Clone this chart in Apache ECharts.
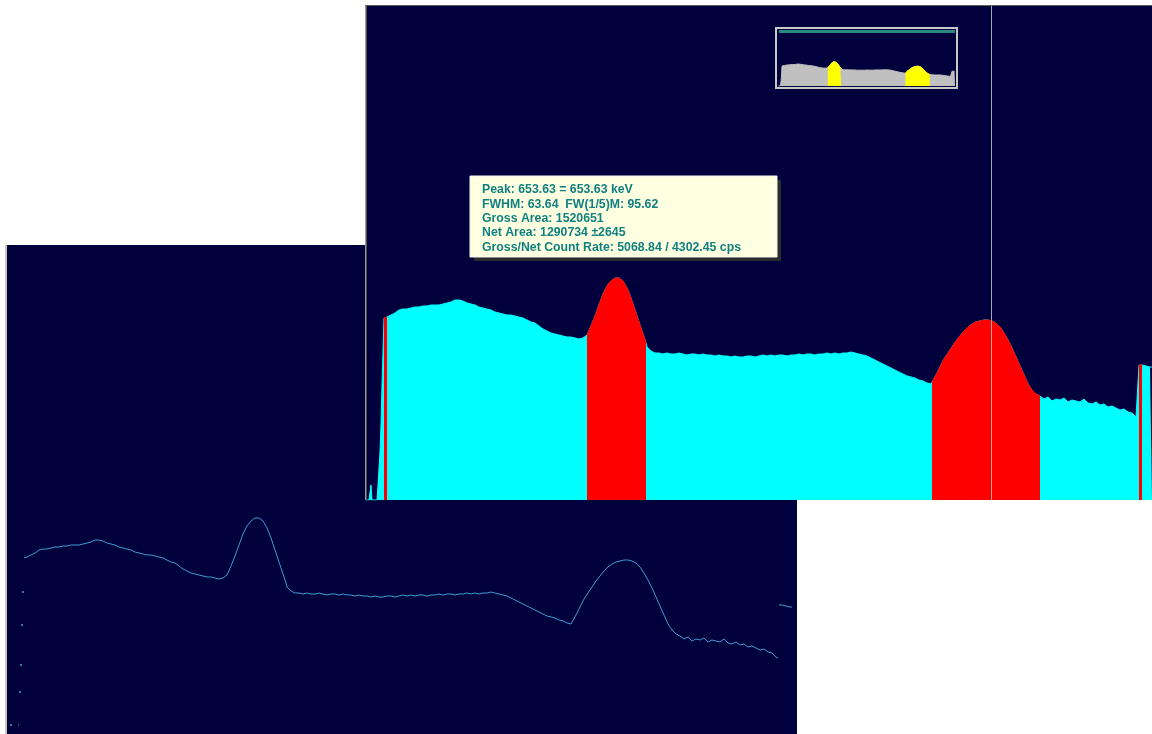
<!DOCTYPE html>
<html>
<head>
<meta charset="utf-8">
<title>Spectrum</title>
<script src="https://cdn.jsdelivr.net/npm/echarts@6/dist/echarts.min.js"></script>
<style>
  html, body { margin: 0; padding: 0; background: #ffffff; }
  #chart { width: 1152px; height: 734px; }
</style>
</head>
<body>
<div id="chart"></div>
<script>
// Gamma spectrum: channel number and counts per channel (sampled)
const channel = [
  0, 3, 4, 5, 6, 11, 12, 13, 14, 15, 16, 17, 18, 20, 21, 25, 29, 33, 37, 41,
  45, 49, 53, 57, 61, 65, 69, 73, 77, 81, 85, 89, 93, 97, 101, 105, 109, 113, 117, 121,
  125, 129, 133, 137, 141, 145, 149, 153, 157, 161, 165, 169, 173, 177, 181, 185, 189, 193, 197, 201,
  205, 209, 213, 217, 221, 225, 229, 233, 237, 241, 245, 249, 253, 257, 261, 265, 269, 273, 277, 280,
  281, 285, 289, 293, 297, 301, 305, 309, 313, 317, 321, 325, 329, 333, 337, 341, 345, 349, 353, 357,
  361, 365, 369, 373, 377, 381, 385, 389, 393, 397, 401, 405, 409, 413, 417, 421, 425, 429, 433, 437,
  441, 445, 449, 453, 457, 461, 465, 469, 473, 477, 481, 485, 489, 493, 497, 501, 505, 509, 513, 517,
  521, 525, 529, 533, 537, 541, 545, 549, 553, 557, 561, 565, 566, 570, 574, 578, 582, 586, 590, 594,
  598, 602, 606, 610, 614, 618, 622, 626, 630, 634, 638, 642, 646, 650, 654, 658, 662, 666, 670, 674,
  675, 678, 682, 686, 690, 694, 698, 702, 706, 710, 714, 718, 722, 726, 730, 734, 738, 742, 746, 750,
  754, 758, 762, 766, 770, 772, 773, 776, 777, 780, 784, 786
];
const counts = [
  0, 0, 0, 15, 0, 0, 15, 15, 48, 75, 115, 148, 182, 182, 183, 185, 187, 190, 191, 191,
  192, 193, 193, 194, 194, 195, 195, 195, 196, 197, 198, 200, 200, 199, 197, 196, 195, 193, 192, 191,
  190, 188, 187, 186, 185, 185, 184, 183, 182, 180, 178, 177, 174, 171, 169, 167, 166, 165, 164, 163,
  163, 162, 161, 162, 165, 174, 184, 195, 206, 214, 219, 222, 222, 219, 212, 202, 190, 178, 166, 157,
  153, 149, 147, 147, 146, 147, 146, 146, 147, 146, 145, 146, 146, 145, 146, 145, 145, 144, 145, 144,
  144, 143, 144, 143, 143, 144, 144, 143, 144, 145, 144, 145, 144, 145, 145, 144, 145, 145, 146, 145,
  146, 146, 145, 146, 146, 147, 146, 147, 146, 147, 147, 148, 147, 146, 145, 144, 142, 140, 138, 136,
  134, 132, 130, 128, 126, 124, 123, 122, 120, 119, 117, 116, 118, 125, 133, 141, 147, 153, 159, 164,
  169, 173, 176, 178, 179, 180, 180, 179, 177, 173, 167, 160, 152, 143, 134, 125, 116, 110, 106, 104,
  103, 101, 103, 99, 101, 100, 102, 98, 100, 99, 98, 101, 97, 96, 98, 95, 96, 93, 94, 92,
  90, 91, 88, 87, 83, 82, 135, 135, 135, 134, 133, 133
];

// Regions of interest (channel ranges)
const roiStart = [18, 221, 566, 773];
const roiEnd = [21, 280, 674, 776];

// Cursor position (channel)
const cursorChannel = 625;

// Peak report for the selected region
const peakReport = [
  'Peak: 653.63 = 653.63 keV',
  'FWHM: 63.64  FW(1/5)M: 95.62',
  'Gross Area: 1520651',
  'Net Area: 1290734 \u00b12645',
  'Gross/Net Count Rate: 5068.84 / 4302.45 cps'
];

const NAVY = '#00003c';

const full = channel.map((c, i) => [c, counts[i]]);
const inRoi = c => roiStart.some((s, k) => c >= s && c <= roiEnd[k]);
const roiData = channel.map((c, i) => inRoi(c) ? [c, counts[i]] : [c, '-']);

// Point plot: neighbouring channels are joined only when the step is small;
// isolated channels are drawn as single dots.
const MAX_STEP = 14;
const joined = i => i > 0 && Math.abs(counts[i] - counts[i - 1]) <= MAX_STEP;
const traceData = [];
const dotData = [];
channel.forEach((c, i) => {
  if (i > 0 && !joined(i)) traceData.push([(channel[i - 1] + c) / 2, '-']);
  traceData.push([c, counts[i]]);
  const next = i + 1 < channel.length && joined(i + 1);
  if (!joined(i) && !next) dotData.push([c, counts[i]]);
});

const chart = echarts.init(document.getElementById('chart'), null, { renderer: 'canvas' });

const hiddenAxis = (idx, min, max) => ({
  type: 'value', gridIndex: idx, min: min, max: max, show: false,
  splitLine: { show: false }
});

const areaSeries = (xi, color, data, z) => ({
  type: 'line', xAxisIndex: xi, yAxisIndex: xi, data: data,
  showSymbol: false, symbol: 'none', connectNulls: false, silent: true,
  lineStyle: { color: color, width: 1 },
  areaStyle: { color: color, opacity: 1 },
  z: z
});

const TRACE = '#3d9ccf';
const tipW = 307, tipH = 81;
const tipChildren = [
  { type: 'rect', shape: { x: 4, y: 4, width: tipW, height: tipH }, style: { fill: '#2c2c2c' } },
  { type: 'rect', shape: { x: 0, y: 0, width: tipW, height: tipH },
    style: { fill: '#ffffe1', stroke: '#f4f4f0', lineWidth: 1 } }
].concat(peakReport.map((t, i) => ({
  type: 'text', x: 12, y: 14 + i * 14.3,
  style: { text: t, fill: '#118080', font: 'bold 12.3px "Liberation Sans", Arial, sans-serif',
           textVerticalAlign: 'middle' }
})));

chart.setOption({
  animation: false,
  backgroundColor: '#ffffff',
  grid: [
    { left: 6, top: 245, width: 791, height: 489, show: true, backgroundColor: NAVY, borderWidth: 0 },
    { left: 366, top: 5, width: 786, height: 495, show: true, backgroundColor: NAVY, borderWidth: 0 },
    { left: 778, top: 34, width: 177, height: 52, show: true, backgroundColor: NAVY, borderWidth: 0 }
  ],
  xAxis: [hiddenAxis(0, 0, 791), hiddenAxis(1, 0, 786), hiddenAxis(2, 0, 786)],
  yAxis: [hiddenAxis(0, 6, 495), hiddenAxis(1, 0, 495), hiddenAxis(2, 0, 473)],
  series: [
    {
      type: 'line', xAxisIndex: 0, yAxisIndex: 0, data: traceData,
      showSymbol: false, symbol: 'none', connectNulls: false, silent: true,
      lineStyle: { color: TRACE, width: 1 }, z: 2
    },
    {
      type: 'scatter', xAxisIndex: 0, yAxisIndex: 0, data: dotData,
      symbol: 'rect', symbolSize: 2, silent: true,
      itemStyle: { color: TRACE }, z: 2
    },
    areaSeries(1, '#00ffff', full, 3),
    Object.assign(areaSeries(1, '#ff0000', roiData, 4), {
      markLine: {
        silent: true, symbol: 'none', label: { show: false },
        lineStyle: { color: '#a8a8a8', width: 1, type: 'solid' },
        data: [{ xAxis: cursorChannel }]
      }
    }),
    areaSeries(2, '#c0c0c0', full, 5),
    areaSeries(2, '#ffff00', roiData, 6)
  ],
  graphic: [
    // window edges
    { type: 'rect', z: 10, shape: { x: 5, y: 245, width: 2, height: 489 }, style: { fill: '#cac6b8' } },
    { type: 'rect', z: 10, shape: { x: 365, y: 5, width: 1, height: 495 }, style: { fill: '#9a9a9a' } },
    { type: 'rect', z: 10, shape: { x: 366, y: 5, width: 1, height: 495 }, style: { fill: '#505050' } },
    { type: 'rect', z: 10, shape: { x: 365, y: 5, width: 787, height: 1 }, style: { fill: '#606060' } },
    // overview frame
    { type: 'rect', z: 10, shape: { x: 776, y: 28, width: 181, height: 60 },
      style: { fill: 'none', stroke: '#c8c8c8', lineWidth: 2 } },
    { type: 'rect', z: 10, shape: { x: 779, y: 30, width: 176, height: 3 }, style: { fill: '#2a8a82' } },
    // peak report box
    { type: 'group', x: 470, y: 176, z: 20, children: tipChildren.map(c => Object.assign({ z: 20 }, c)) }
  ]
});
</script>
</body>
</html>
